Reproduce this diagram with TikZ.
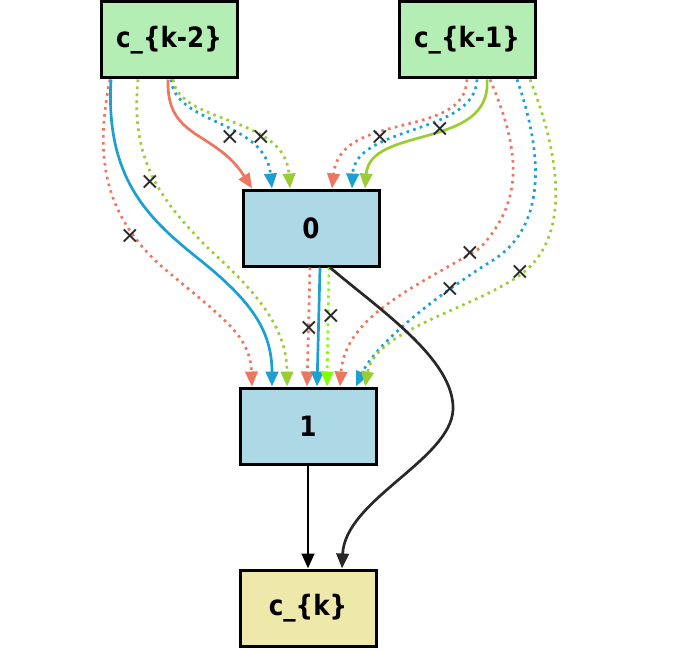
\documentclass[tikz,border=0pt]{standalone}
\usepackage{fontspec}
\setmainfont{DejaVu Sans}
\newfontfamily\labfont[FakeStretch=0.88]{DejaVu Sans}
\usetikzlibrary{arrows.meta}
\definecolor{cred}{RGB}{238,118,96}
\definecolor{cblue}{RGB}{28,160,210}
\definecolor{cgreen}{RGB}{154,205,50}
\definecolor{cchart}{RGB}{127,255,0}
\definecolor{cdark}{RGB}{40,40,40}
\definecolor{fgreen}{RGB}{180,238,180}
\definecolor{fblue}{RGB}{173,216,230}
\definecolor{fyellow}{RGB}{238,232,170}
\tikzset{
  box/.style={draw=black, line width=3pt, minimum width=136pt, minimum height=76pt, inner sep=0pt,
    font=\labfont\fontsize{28}{30}\selectfont\bfseries},
  edge/.style={line width=2.7pt, -{Triangle[length=15pt,width=12.5pt]}},
  dot/.style={edge, dash pattern=on 2.6pt off 4.4pt},
  cross/.style={font=\fontsize{24}{26}\selectfont, text=cdark, inner sep=0pt}
}
\begin{document}
\begin{tikzpicture}[x=1pt,y=-1pt]
\useasboundingbox (0,0) rectangle (699,650);
\node[box, fill=fgreen] (k2) at (169,40) {c\_\{k-2\}};
\node[box, fill=fgreen] (k1) at (467,40) {c\_\{k-1\}};
\node[box, fill=fblue] (n0) at (311,228) {0};
\node[box, fill=fblue] (n1) at (308,426) {1};
\node[box, fill=fyellow] (ck) at (308,608) {c\_\{k\}};

% c_{k-2} -> 0
\draw[edge, cred] ([xshift=-1pt]k2.south) .. controls (166,140) and (215,130) .. ([xshift=-59pt]n0.north);
\draw[dot, cblue] ([xshift=2pt]k2.south) .. controls (175,125) and (265,120) .. ([xshift=-39pt]n0.north);
\draw[dot, cgreen] ([xshift=4pt]k2.south) .. controls (180,125) and (285,115) .. ([xshift=-21pt]n0.north);
% c_{k-1} -> 0
\draw[dot, cred] (k1.south) .. controls (465,140) and (340,110) .. ([xshift=21pt]n0.north);
\draw[dot, cblue] ([xshift=10pt]k1.south) .. controls (475,135) and (355,125) .. ([xshift=41pt]n0.north);
\draw[edge, cgreen] ([xshift=20pt]k1.south) .. controls (492,150) and (370,125) .. ([xshift=54pt]n0.north);

% c_{k-2} -> 1
\draw[dot, cred] ([xshift=-59pt]k2.south) .. controls (96,150) and (100,210) .. (160,265)
  .. controls (225,320) and (250,335) .. ([xshift=-56pt]n1.north);
\draw[edge, cblue] ([xshift=-58pt]k2.south) .. controls (105,180) and (150,220) .. (200,260)
  .. controls (250,300) and (272,330) .. ([xshift=-36pt]n1.north);
\draw[dot, cgreen] ([xshift=-31pt]k2.south) .. controls (130,160) and (160,200) .. (210,250)
  .. controls (260,295) and (287,330) .. ([xshift=-21pt]n1.north);

% 0 -> 1
\draw[dot, cred] ([xshift=-1pt]n0.south) -- ([xshift=-1pt]n1.north);
\draw[edge, cblue] ([xshift=9pt]n0.south) -- ([xshift=9pt]n1.north);
\draw[dot, cchart] ([xshift=18pt]n0.south) -- ([xshift=19pt]n1.north);

% c_{k-1} -> 1
\draw[dot, cred] ([xshift=23pt]k1.south) .. controls (520,150) and (525,200) .. (480,248)
  .. controls (420,285) and (345,315) .. ([xshift=32pt]n1.north);
\draw[dot, cblue] ([xshift=50pt]k1.south) .. controls (545,160) and (545,230) .. (490,262)
  .. controls (430,300) and (375,345) .. ([xshift=48pt]n1.north);
\draw[dot, cgreen] ([xshift=63pt]k1.south) .. controls (562,160) and (570,240) .. (520,275)
  .. controls (470,310) and (375,330) .. ([xshift=57pt]n1.north);

% 0 -> c_k, 1 -> c_k
\draw[edge, cdark] ([xshift=19pt]n0.south) .. controls (380,310) and (455,360) .. (453,410)
  .. controls (450,460) and (345,500) .. ([xshift=34pt]ck.north);
\draw[edge, black] (n1.south) -- (ck.north);

% crosses
\node[cross] (x1) at (230,137) {×};
\node[cross] (x2) at (261,137) {×};
\node[cross] (x3) at (380,137) {×};
\node[cross] (x4) at (440,129) {×};
\node[cross] (x5) at (150,182) {×};
\node[cross] (x6) at (130,236) {×};
\node[cross] (x7) at (309,328) {×};
\node[cross] (x8) at (331,316) {×};
\node[cross] (x9) at (470,253) {×};
\node[cross] (x10) at (450,289) {×};
\node[cross] (x11) at (520,272) {×};
\end{tikzpicture}
\end{document}
